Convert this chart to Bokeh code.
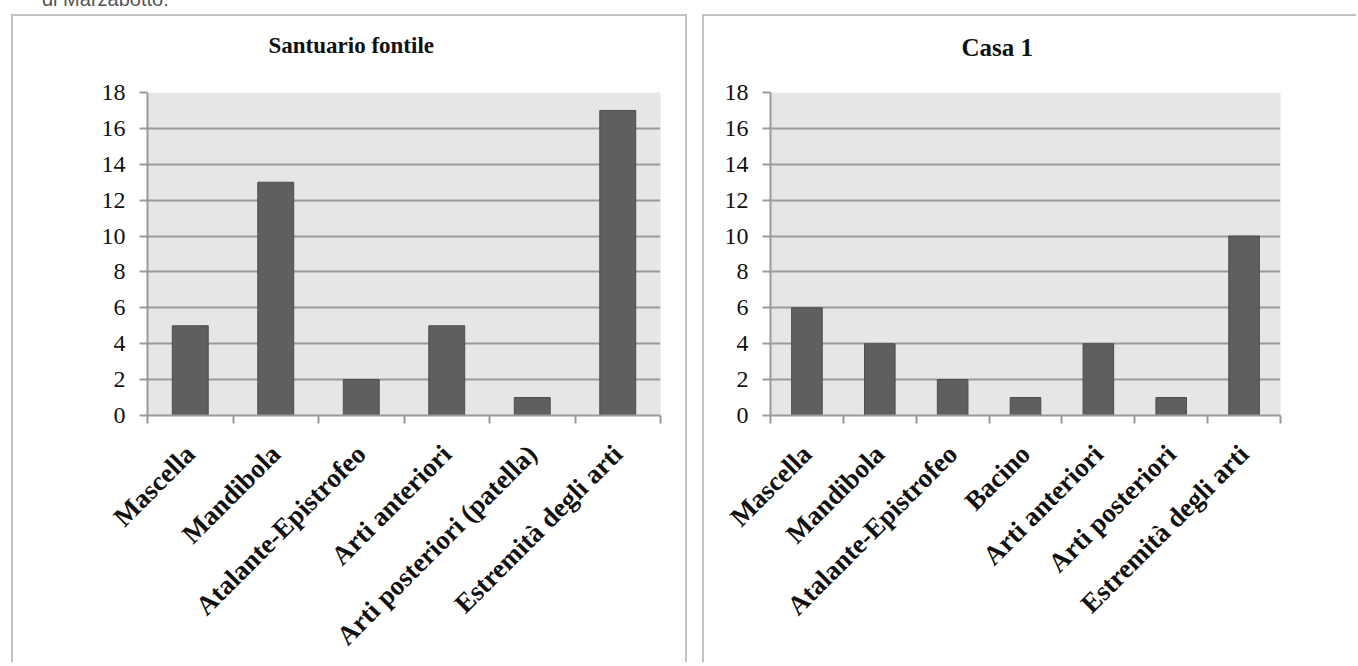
import math
from bokeh.plotting import figure
from bokeh.layouts import row, column
from bokeh.models import Range1d, FixedTicker, LinearAxis, Title, Div
from bokeh.embed import file_html
from bokeh.resources import INLINE

# ---- data ----
caption = "di Marzabotto."

title_left = "Santuario fontile"
cats_left = ["Mascella", "Mandibola", "Atalante-Epistrofeo", "Arti anteriori",
             "Arti posteriori (patella)", "Estremità degli arti"]
vals_left = [5, 13, 2, 5, 1, 17]

title_right = "Casa 1"
cats_right = ["Mascella", "Mandibola", "Atalante-Epistrofeo", "Bacino",
              "Arti anteriori", "Arti posteriori", "Estremità degli arti"]
vals_right = [6, 4, 2, 1, 4, 1, 10]

y_ticks = [0, 2, 4, 6, 8, 10, 12, 14, 16, 18]
y_max = 18

SERIF = "Liberation Serif"
GRID = "#9a9a9a"
PANEL = "#c2c2c2"
BAR = "#5f5f5f"
BAR_LINE = "#4d4d4d"
BG = "#e6e6e6"
INK = "#111111"


def make_panel(cats, vals, title, title_size, title_offset, title_standoff, width, height,
               left, right, top, bottom, styles):
    # a second (blank) line lifts the title up into the white band above the plot
    t = Title(text=title + "\n\u00a0", align="left", offset=title_offset, text_font=SERIF,
              text_font_size=title_size, text_font_style="bold", text_color=INK,
              vertical_align="bottom", standoff=title_standoff)
    p = figure(x_range=cats, y_range=Range1d(0, y_max), width=width, height=height,
               title=t, x_axis_type=None, output_backend="svg", toolbar_location=None,
               min_border_left=left, min_border_right=right, min_border_top=top,
               min_border_bottom=bottom)
    p.background_fill_color = BG
    p.border_fill_color = "white"
    p.outline_line_color = None
    p.xgrid.grid_line_color = None
    p.ygrid.grid_line_color = GRID
    p.ygrid.grid_line_width = 2
    p.ygrid.ticker = FixedTicker(ticks=y_ticks)

    p.vbar(x=cats, top=vals, width=0.42, fill_color=BAR, line_color=BAR_LINE, line_width=1)

    # y axis
    ya = p.yaxis[0]
    ya.ticker = FixedTicker(ticks=y_ticks)
    ya.axis_line_color = GRID
    ya.axis_line_width = 2
    ya.major_tick_line_color = GRID
    ya.major_tick_line_width = 2
    ya.major_tick_out = 8
    ya.major_tick_in = 0
    ya.minor_tick_line_color = None
    ya.major_label_text_font = SERIF
    ya.major_label_text_font_size = "24px"
    ya.major_label_text_color = INK
    ya.major_label_standoff = 14

    # x axis: labels at category centres, tick marks at category boundaries
    n = len(cats)
    centres = [i + 0.5 for i in range(n)]
    bounds = list(range(n + 1))
    xa = LinearAxis(ticker=FixedTicker(ticks=centres, minor_ticks=bounds))
    xa.major_label_overrides = {c: name for c, name in zip(centres, cats)}
    xa.axis_line_color = GRID
    xa.axis_line_width = 2
    xa.major_tick_line_color = None
    xa.major_tick_out = 0
    xa.major_tick_in = 0
    xa.minor_tick_line_color = GRID
    xa.minor_tick_line_width = 2
    xa.minor_tick_out = 8
    xa.minor_tick_in = 0
    xa.major_label_orientation = math.pi / 4
    xa.major_label_text_font = SERIF
    xa.major_label_text_font_size = "27px"
    xa.major_label_text_font_style = "bold"
    xa.major_label_text_color = INK
    xa.major_label_standoff = 26
    p.add_layout(xa, "below")

    p.styles = styles
    return p


border = "2px solid " + PANEL
p1 = make_panel(cats_left, vals_left, title_left, "23px", 121, 19, 676, 648, 134, 29, 76, 241,
                {"border-top": border, "border-left": border, "border-right": border})
p2 = make_panel(cats_right, vals_right, title_right, "25px", 191, 10, 654, 648, 66, 78, 76, 212,
                {"border-top": border, "border-left": border})
p1.margin = (0, 0, 0, 11)
p2.margin = (0, 0, 0, 15)

cap = Div(text=('<div style="position:relative; left:42px; top:-11px; '
                'font-family:\'Liberation Sans\'; font-size:20px; line-height:20px; '
                'color:#555555; white-space:nowrap;">' + caption + '</div>'),
          width=400, height=14, margin=0)

layout = column(cap, row(p1, p2, margin=0, spacing=0), margin=0, spacing=0)

with open("out.html", "w") as f:
    f.write(file_html(layout, INLINE))
